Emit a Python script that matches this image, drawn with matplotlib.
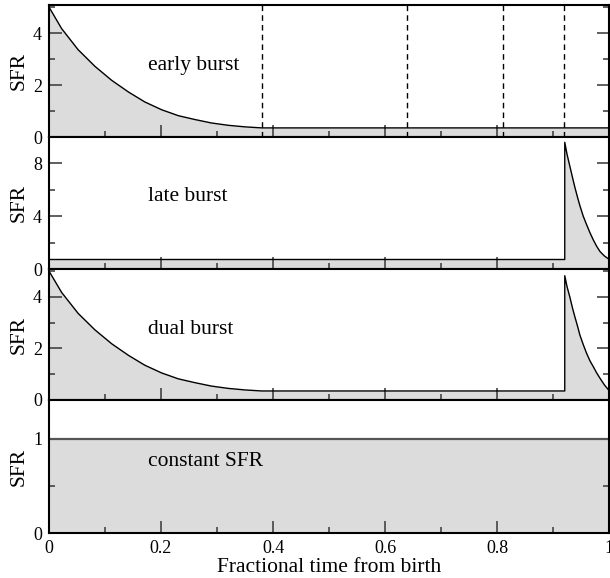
import matplotlib
matplotlib.use("Agg")
import matplotlib.pyplot as plt
from matplotlib.ticker import MultipleLocator, FuncFormatter

plt.rcParams["font.family"] = ["Liberation Serif", "DejaVu Serif"]

# values, fractional time vs SFR
early_t = [0.0, 0.0226, 0.052, 0.082, 0.112, 0.142, 0.171, 0.201, 0.231,
           0.261, 0.290, 0.320, 0.350, 0.38, 1.0]
early_sfr = [5.0, 4.17, 3.36, 2.72, 2.18, 1.73, 1.35, 1.05, 0.82,
             0.67, 0.54, 0.45, 0.39, 0.35, 0.35]

late_t = [0.0, 0.921, 0.921, 0.925, 0.930, 0.935, 0.939, 0.944, 0.948,
          0.954, 0.960, 0.966, 0.972, 0.978, 0.984, 0.992, 1.0]
late_sfr = [0.72, 0.72, 9.6, 8.7, 7.8, 6.9, 6.2, 5.4, 4.8,
            4.0, 3.36, 2.75, 2.2, 1.72, 1.32, 0.98, 0.74]

dual_t = [0.0, 0.0226, 0.052, 0.082, 0.112, 0.142, 0.171, 0.201, 0.231,
          0.261, 0.290, 0.320, 0.350, 0.38, 0.921, 0.921, 0.925, 0.930,
          0.935, 0.939, 0.944, 0.948, 0.954, 0.960, 0.966, 0.972, 0.978,
          0.984, 0.992, 1.0]
dual_sfr = [5.0, 4.17, 3.36, 2.72, 2.18, 1.73, 1.35, 1.05, 0.82,
            0.67, 0.54, 0.45, 0.39, 0.35, 0.35, 4.82, 4.4, 4.0,
            3.55, 3.23, 2.85, 2.52, 2.15, 1.81, 1.52, 1.29, 1.05,
            0.84, 0.58, 0.37]

const_t = [0.0, 1.0]
const_sfr = [1.0, 1.0]

age_marks = [0.38, 0.64, 0.81, 0.92]

labels = ["early burst", "late burst", "dual burst", "constant SFR"]
ylims = [5.08, 10.0, 5.08, 1.41]
ymajor = [2, 4, 2, 1]
yminor = [1, 2, 1, 0.5]
label_y = [2.77, 5.5, 2.72, 0.76]

series = [(early_t, early_sfr), (late_t, late_sfr), (dual_t, dual_sfr),
          (const_t, const_sfr)]

W, H = 610, 578
fig = plt.figure(figsize=(W / 100, H / 100), dpi=100)
edges = [5, 137, 269, 400, 533]
left, right = 49, 609

fill_c = "#dcdcdc"
for i, (t, s) in enumerate(series):
    top, bot = edges[i], edges[i + 1]
    ax = fig.add_axes([left / W, 1 - bot / H, (right - left) / W, (bot - top) / H])
    ax.fill_between(t, 0, s, color=fill_c, lw=0)
    ax.plot(t, s, color="black" if i < 3 else "#555555", lw=1.0 if i < 3 else 1.6)
    if i == 0:
        for m in age_marks:
            ax.axvline(m, color="black", lw=1.0, ls=(0, (4, 3)))
    ax.set_xlim(0, 1)
    ax.set_ylim(0, ylims[i])
    ax.yaxis.set_major_locator(MultipleLocator(ymajor[i]))
    ax.yaxis.set_minor_locator(MultipleLocator(yminor[i]))
    ax.xaxis.set_major_locator(MultipleLocator(0.2))
    ax.xaxis.set_minor_locator(MultipleLocator(0.1))
    ax.tick_params(which="both", direction="in", left=True, right=True,
                   top=False, bottom=True, color="#444444", width=1.2,
                   labelsize=13, pad=5)
    ax.tick_params(which="major", length=9)
    ax.tick_params(which="minor", length=4.5)
    for sp in ax.spines.values():
        sp.set_linewidth(1.5)
    ax.text(0.177, label_y[i], labels[i], fontsize=15.5, ha="left", va="center")
    ax.set_ylabel("SFR", fontsize=15.5)
    ax.yaxis.set_label_coords(-0.036, 0.5)
    ax.yaxis.set_major_formatter(FuncFormatter(lambda v, p: f"{v:g}"))
    if i < 3:
        ax.tick_params(labelbottom=False)
    else:
        ax.xaxis.set_major_formatter(FuncFormatter(lambda v, p: f"{v:g}"))
        ax.set_xlabel("Fractional time from birth", fontsize=15.5, labelpad=1)

fig.savefig("out.png", dpi=100)
